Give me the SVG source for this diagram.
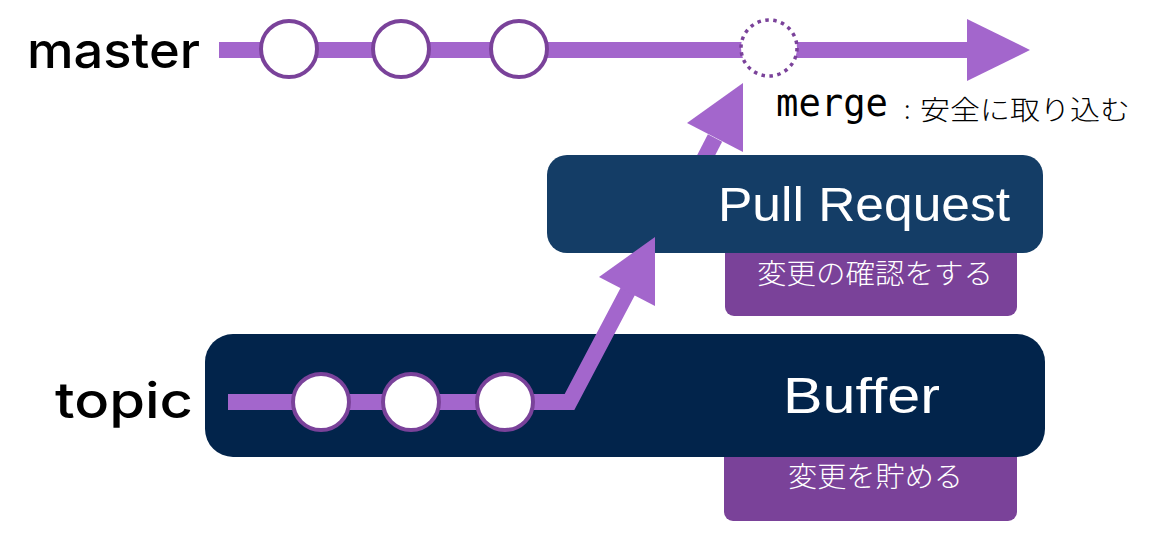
<svg xmlns="http://www.w3.org/2000/svg" width="1170" height="554" viewBox="0 0 1170 554">
<style>
.lbl{font-family:"Inter","Roboto","Liberation Sans",sans-serif;font-weight:500;fill:#000}
.box-t{font-family:"Liberation Sans","Noto Sans",sans-serif;fill:#fff}
.jp{font-family:"Noto Sans CJK JP",sans-serif;fill:#fff;font-weight:300}
.line{fill:none;stroke:#a366cc;stroke-width:16}
.head{fill:#a366cc}
.commit{fill:#fff;stroke:#7a429a;stroke-width:4}
.sub{fill:#7a4299}
</style>
<rect width="1170" height="554" fill="#fff"/>
<text class="lbl" x="27" y="68" font-size="50" textLength="173" lengthAdjust="spacingAndGlyphs">master</text>
<text class="lbl" x="55" y="418" font-size="50" textLength="138" lengthAdjust="spacingAndGlyphs">topic</text>

<g id="sub-buffer"><rect class="sub" x="724" y="430" width="293" height="91" rx="9"/>
<text class="jp" x="788" y="487" font-size="28" textLength="175" lengthAdjust="spacingAndGlyphs">変更を貯める</text></g>

<g id="sub-pr"><rect class="sub" x="725" y="225" width="292" height="91" rx="9"/>
<text class="jp" x="757" y="284" font-size="28" textLength="236" lengthAdjust="spacingAndGlyphs">変更の確認をする</text></g>

<g id="connectors-under">
<path class="line" d="M697 173 L715 138"/>
<polygon class="head" points="743,83 687,123 743,152"/>
</g>

<g id="pull-request"><rect x="547" y="155" width="496" height="98" rx="20" fill="#143d66"/>
<text class="box-t" x="718" y="221" font-size="48" textLength="292" lengthAdjust="spacingAndGlyphs">Pull Request</text></g>

<g id="buffer"><rect x="205" y="334" width="840" height="123" rx="28" fill="#02244b"/>
<text class="box-t" x="783" y="413" font-size="50" textLength="157" lengthAdjust="spacingAndGlyphs">Buffer</text></g>

<g id="connectors">
<path class="line" d="M219 50 H970"/>
<polygon class="head" points="967,19 1030,50 967,81"/>
<path class="line" d="M228 402 H569.5 L628 291" stroke-linejoin="miter"/>
<polygon class="head" points="655,237 599,277 655,306"/>
</g>

<g id="master-commits">
<circle class="commit" cx="289" cy="49" r="28"/>
<circle class="commit" cx="401" cy="49" r="28"/>
<circle class="commit" cx="519" cy="49" r="28"/>
<circle cx="769" cy="48" r="28" fill="#fff" stroke="#7a429a" stroke-width="3.5" stroke-dasharray="3.5 4.5"/>
</g>
<g id="topic-commits">
<circle class="commit" cx="321" cy="402" r="28"/>
<circle class="commit" cx="411" cy="402" r="28"/>
<circle class="commit" cx="505" cy="402" r="28"/>
</g>

<g id="merge-label">
<text x="776" y="116" font-family="DejaVu Sans Mono,Liberation Mono,monospace" font-size="39" textLength="112" lengthAdjust="spacingAndGlyphs" fill="#000">merge</text>
<text x="904" y="119" font-family="Noto Sans CJK JP,sans-serif" font-size="26" font-weight="300" fill="#000">:</text>
<text x="920" y="120" font-family="Noto Sans CJK JP,sans-serif" font-size="27" font-weight="300" textLength="210" lengthAdjust="spacingAndGlyphs" fill="#000">安全に取り込む</text>
</g>
</svg>
